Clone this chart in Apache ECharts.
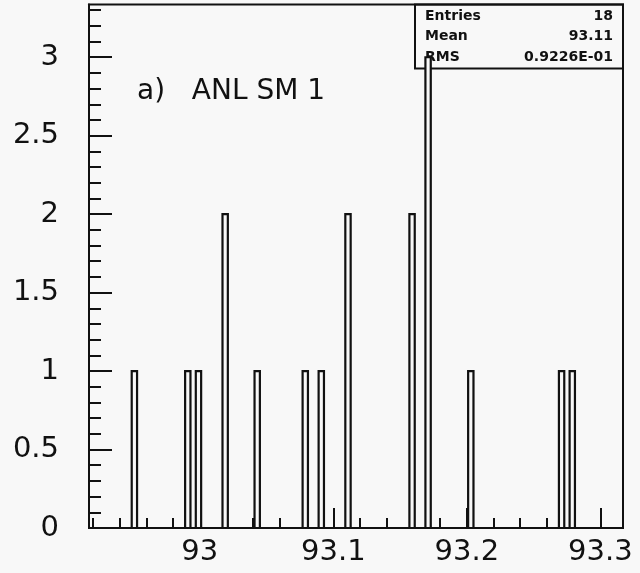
<!DOCTYPE html>
<html>
<head>
<meta charset="utf-8">
<script src="https://cdn.jsdelivr.net/npm/echarts@6/dist/echarts.min.js"></script>
<style>
html,body{margin:0;padding:0;background:#f8f8f8;}
#chart{width:640px;height:573px;}
</style>
</head>
<body>
<div id="chart"></div>
<script>
// Histogram bins (bin centres) and their entry counts
var binCenters = [92.951, 92.991, 92.999, 93.019, 93.043, 93.079, 93.091, 93.111, 93.159, 93.171, 93.203, 93.271, 93.279];
var counts     = [1, 1, 1, 2, 1, 1, 1, 2, 2, 3, 1, 1, 1];
var binWidth = 0.004;

// Axis ticks / labels
var xMajorTicks = [93, 93.1, 93.2, 93.3];
var xMinorTicks = [92.92, 92.94, 92.96, 92.98, 93.02, 93.04, 93.06, 93.08, 93.12, 93.14, 93.16, 93.18, 93.22, 93.24, 93.26, 93.28];
var yMajorTicks = [0, 0.5, 1, 1.5, 2, 2.5, 3];
var yMinorTicks = [0.1, 0.2, 0.3, 0.4, 0.6, 0.7, 0.8, 0.9, 1.1, 1.2, 1.3, 1.4, 1.6, 1.7, 1.8, 1.9, 2.1, 2.2, 2.3, 2.4, 2.6, 2.7, 2.8, 2.9, 3.1, 3.2, 3.3];

// Statistics box and title
var titleText = 'a)   ANL SM 1';
var statLabels = ['Entries', 'Mean', 'RMS'];
var statValues = ['18', '93.11', '0.9226E-01'];

var X_MIN = 92.917, X_MAX = 93.317, Y_MIN = 0, Y_MAX = 3.336;

var chart = echarts.init(document.getElementById('chart'), null, {renderer: 'canvas'});

var data = binCenters.map(function (c, i) { return [c, counts[i]]; });

var FONT = 'DejaVu Sans';
var INK = '#111';

var statGraphics = [];
statGraphics.push({
  type: 'rect', z: 1,
  shape: {x: 415, y: 4.5, width: 208, height: 64},
  style: {fill: null, stroke: INK, lineWidth: 2}
});
statLabels.forEach(function (t, i) {
  statGraphics.push({
    type: 'text', z: 1, x: 425, y: 23 + i * 20.5,
    style: {text: t, fontFamily: FONT, fontWeight: 'bold', fontSize: 14, fill: INK, textVerticalAlign: 'bottom', textAlign: 'left'}
  });
  statGraphics.push({
    type: 'text', z: 1, x: 613, y: 23 + i * 20.5,
    style: {text: statValues[i], fontFamily: FONT, fontWeight: 'bold', fontSize: 14, fill: INK, textVerticalAlign: 'bottom', textAlign: 'right'}
  });
});
statGraphics.push({
  type: 'text', z: 1, x: 137, y: 106,
  style: {text: titleText, fontFamily: FONT, fontSize: 28, fill: INK, textVerticalAlign: 'bottom', textAlign: 'left'}
});

chart.setOption({
  backgroundColor: '#f8f8f8',
  animation: false,
  grid: {left: 89, right: 17, top: 4.5, bottom: 45, show: true, borderColor: INK, borderWidth: 2, backgroundColor: 'transparent'},
  xAxis: [{
    type: 'value', min: X_MIN, max: X_MAX, position: 'bottom',
    axisLine: {show: true, lineStyle: {color: INK, width: 2}},
    axisTick: {show: true, inside: true, length: 20, customValues: xMajorTicks, lineStyle: {color: INK, width: 2}},
    axisLabel: {show: true, customValues: xMajorTicks, margin: 10, fontFamily: FONT, fontSize: 29, color: INK,
      formatter: function (v) { return String(Math.round(v * 10) / 10); }},
    splitLine: {show: false}
  }, {
    type: 'value', min: X_MIN, max: X_MAX, position: 'bottom',
    axisLine: {show: false},
    axisTick: {show: true, inside: true, length: 10, customValues: xMinorTicks, lineStyle: {color: INK, width: 2}},
    axisLabel: {show: false},
    splitLine: {show: false}
  }],
  yAxis: [{
    type: 'value', min: Y_MIN, max: Y_MAX, position: 'left',
    axisLine: {show: true, lineStyle: {color: INK, width: 2}},
    axisTick: {show: true, inside: true, length: 23, customValues: yMajorTicks, lineStyle: {color: INK, width: 2}},
    axisLabel: {show: true, customValues: yMajorTicks, margin: 30, fontFamily: FONT, fontSize: 29, color: INK,
      formatter: function (v) { return String(Math.round(v * 10) / 10); }},
    splitLine: {show: false}
  }, {
    type: 'value', min: Y_MIN, max: Y_MAX, position: 'left',
    axisLine: {show: false},
    axisTick: {show: true, inside: true, length: 12, customValues: yMinorTicks, lineStyle: {color: INK, width: 2}},
    axisLabel: {show: false},
    splitLine: {show: false}
  }],
  graphic: statGraphics,
  series: [{
    type: 'custom',
    xAxisIndex: 0, yAxisIndex: 0,
    z: 3,
    data: data,
    encode: {x: 0, y: 1},
    renderItem: function (params, api) {
      var c = api.value(0), n = api.value(1);
      var p0 = api.coord([c - binWidth / 2, n]);
      var p1 = api.coord([c + binWidth / 2, 0]);
      return {
        type: 'rect',
        shape: {x: p0[0], y: p0[1], width: p1[0] - p0[0], height: p1[1] - p0[1]},
        style: {fill: '#f8f8f8', stroke: INK, lineWidth: 2.2}
      };
    }
  }]
});
</script>
</body>
</html>
